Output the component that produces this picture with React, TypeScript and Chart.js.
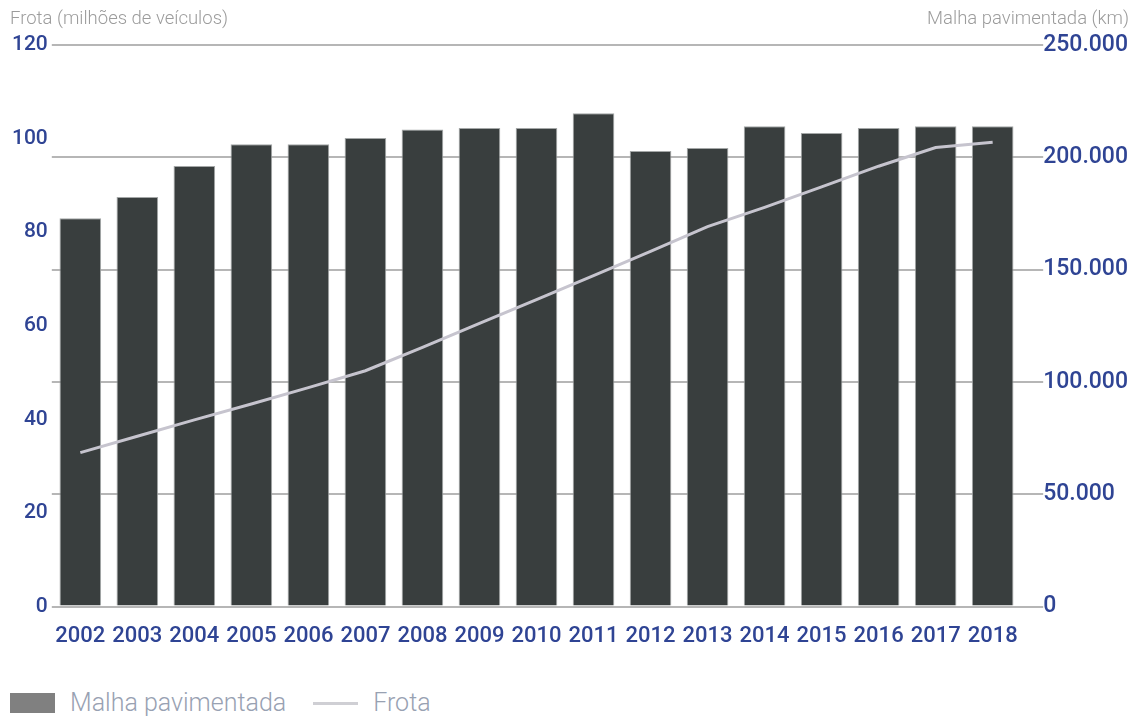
import React, { useEffect, useRef } from "react";
import { Chart, registerables } from "chart.js";

Chart.register(...registerables);

const years = ["2002", "2003", "2004", "2005", "2006", "2007", "2008", "2009", "2010", "2011", "2012", "2013", "2014", "2015", "2016", "2017", "2018"];
const malhaKm = [172900, 182300, 196100, 205800, 205800, 208600, 212400, 213100, 213100, 219600, 202800, 204200, 213800, 210800, 213100, 213800, 213800];
const frotaMilhoes = [32.9, 36.4, 39.9, 43.3, 46.8, 50.4, 55.4, 60.5, 65.6, 70.7, 75.9, 81.2, 85.3, 89.7, 94.1, 98.1, 99.2];
const leftAxisMax = 120;
const leftAxisStep = 20;
const rightAxisMax = 250000;
const rightAxisStep = 50000;

const BLUE = "#2f4494";

const fmtThousands = (v: number) => String(v).replace(/\B(?=(\d{3})+(?!\d))/g, ".");

export default function App() {
  const canvasRef = useRef<HTMLCanvasElement | null>(null);

  useEffect(() => {
    const prevHtml = document.documentElement.style.overflow;
    document.documentElement.style.overflow = "hidden";
    if (!canvasRef.current) return;
    const chart = new Chart(canvasRef.current, {
      type: "bar",
      data: {
        labels: years,
        datasets: [
          {
            type: "line",
            label: "Frota",
            data: frotaMilhoes,
            yAxisID: "yLeft",
            borderColor: "#c6c4ce",
            borderWidth: 3,
            pointRadius: 0,
            tension: 0,
            fill: false,
          } as any,
          {
            type: "bar",
            label: "Malha pavimentada",
            data: malhaKm,
            yAxisID: "yRight",
            backgroundColor: "#393e3e",
            borderColor: "#a4a7a7",
            borderWidth: 1,
            barPercentage: 0.73,
            categoryPercentage: 1,
          },
        ],
      },
      options: {
        animation: false,
        responsive: false,
        maintainAspectRatio: false,
        layout: { padding: { top: 37, left: 0, right: 3, bottom: 14 } },
        plugins: {
          legend: { display: false },
          tooltip: { enabled: false },
        },
        scales: {
          x: {
            grid: { display: false, drawTicks: false },
            border: { display: false },
            ticks: {
              color: BLUE,
              font: { family: "Roboto", size: 22, weight: 500 },
              padding: 17,
              autoSkip: false,
              maxRotation: 0,
            },
          },
          yLeft: {
            position: "left",
            min: 0,
            max: leftAxisMax,
            grid: { display: false, drawTicks: false },
            border: { display: false },
            ticks: {
              stepSize: leftAxisStep,
              color: BLUE,
              font: { family: "Roboto", size: 21, weight: 500 },
              padding: 4,
            },
          },
          yRight: {
            position: "right",
            min: 0,
            max: rightAxisMax,
            grid: {
              display: true,
              color: "#b6b6b6",
              lineWidth: 2,
              drawTicks: true,
              tickLength: 22,
            },
            border: { display: false },
            ticks: {
              stepSize: rightAxisStep,
              color: BLUE,
              font: { family: "Roboto", size: 23, weight: 500 },
              padding: 0,
              callback: (v: any) => fmtThousands(Number(v)),
            },
          },
        },
      },
    });
    return () => {
      chart.destroy();
      document.documentElement.style.overflow = prevHtml;
    };
  }, []);

  const titleStyle: React.CSSProperties = {
    position: "absolute",
    top: 0,
    fontFamily: "Roboto",
    fontWeight: 300,
    fontSize: 18.5,
    color: "#9c9c9c",
    lineHeight: "20px",
    whiteSpace: "nowrap",
  };
  const legendText: React.CSSProperties = {
    fontFamily: "Roboto",
    fontWeight: 300,
    fontSize: 25,
    color: "#98a1b2",
    lineHeight: "26px",
  };

  return (
    <div style={{ position: "relative", width: 1123, height: 710 }}>
      <canvas ref={canvasRef} width={1123} height={673} style={{ position: "absolute", left: 0, top: 0 }} />
      <div style={{ ...titleStyle, left: 2 }}>Frota (milhões de veículos)</div>
      <div style={{ ...titleStyle, right: 2 }}>Malha pavimentada (km)</div>
      <div style={{ position: "absolute", left: 2, top: 682, display: "flex", alignItems: "center" }}>
        <div style={{ width: 45, height: 20, background: "#808080", marginRight: 15 }} />
        <span style={legendText}>Malha pavimentada</span>
        <div style={{ width: 45, height: 3, background: "#cfcfd4", marginLeft: 27, marginRight: 15 }} />
        <span style={legendText}>Frota</span>
      </div>
    </div>
  );
}
